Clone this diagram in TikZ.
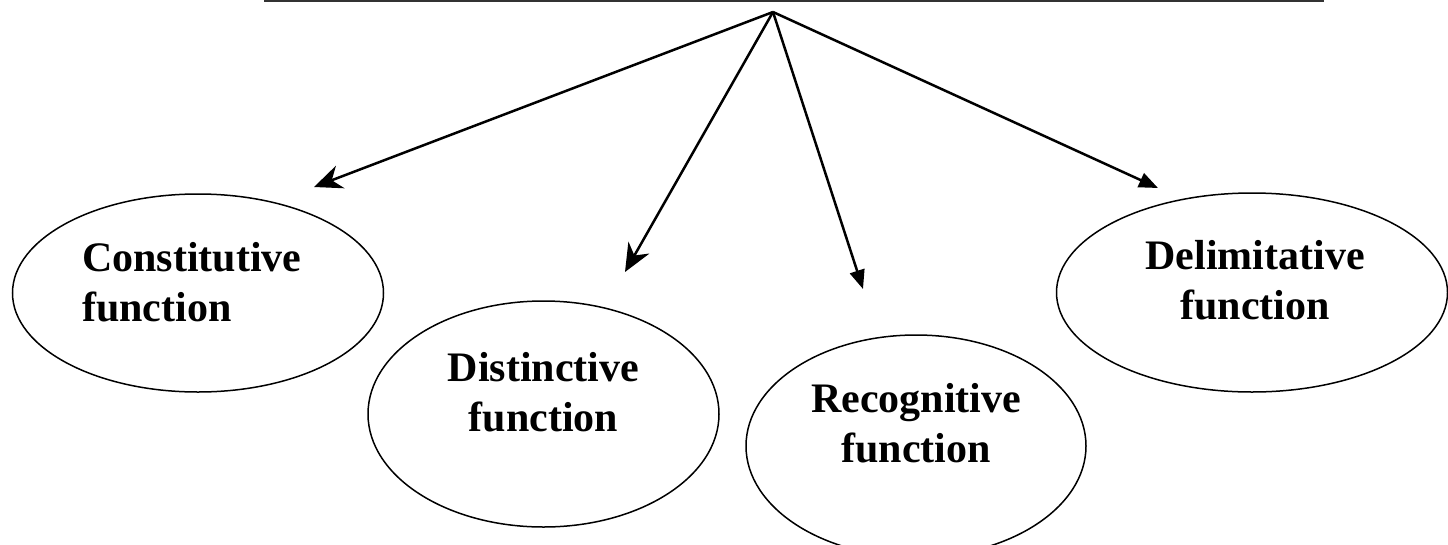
\documentclass[tikz,border=0pt]{standalone}
\usepackage{fontspec}
\setmainfont{Liberation Serif}
\usetikzlibrary{shapes.geometric,arrows.meta}
\tikzset{
  oval/.style={draw=black, line width=1.5pt, ellipse, inner sep=0pt},
  lbl/.style={font=\bfseries\fontsize{42}{50}\selectfont, inner sep=0pt, align=center},
  arr/.style={draw=black, line width=2.5pt},
  stl/.style={arr, -{Stealth[length=28pt, width=24pt, inset=9pt]}},
  tri/.style={arr, -{Triangle[length=19pt, width=15pt]}},
}
\begin{document}
\begin{tikzpicture}[x=1pt, y=-1pt]
\useasboundingbox (0,0) rectangle (1448,544);
% top rule
\coordinate (topL) at (264,1.2);
\coordinate (topR) at (1324,1.2);
\draw[line width=2.2pt, black!80] (topL) -- (topR);
% apex and tips
\coordinate (apex) at (773,12);
\coordinate (tipC) at (314,187);
\coordinate (tipD) at (625,272);
\coordinate (tipR) at (863,289);
\coordinate (tipL) at (1158,188);
% ellipses
\node[oval, minimum width=371pt, minimum height=198pt] (eC) at (198,293) {};
\node[oval, minimum width=351pt, minimum height=226pt] (eD) at (543.5,414) {};
\node[oval, minimum width=340pt, minimum height=222pt] (eR) at (916,446) {};
\node[oval, minimum width=391pt, minimum height=199pt] (eL) at (1252,292.5) {};
% labels
\node[lbl, align=left, anchor=west] (tC) at (82,282.5) {Constitutive\\function};
\node[lbl] (tD) at (543.5,392.5) {Distinctive\\function};
\node[lbl] (tR) at (916,423.5) {Recognitive\\function};
\node[lbl] (tL) at (1255,280.5) {Delimitative\\function};
% arrows
\draw[stl] (apex) -- (tipC);
\draw[stl] (apex) -- (tipD);
\draw[tri] (apex) -- (tipR);
\draw[tri] (apex) -- (tipL);
\end{tikzpicture}
\end{document}
